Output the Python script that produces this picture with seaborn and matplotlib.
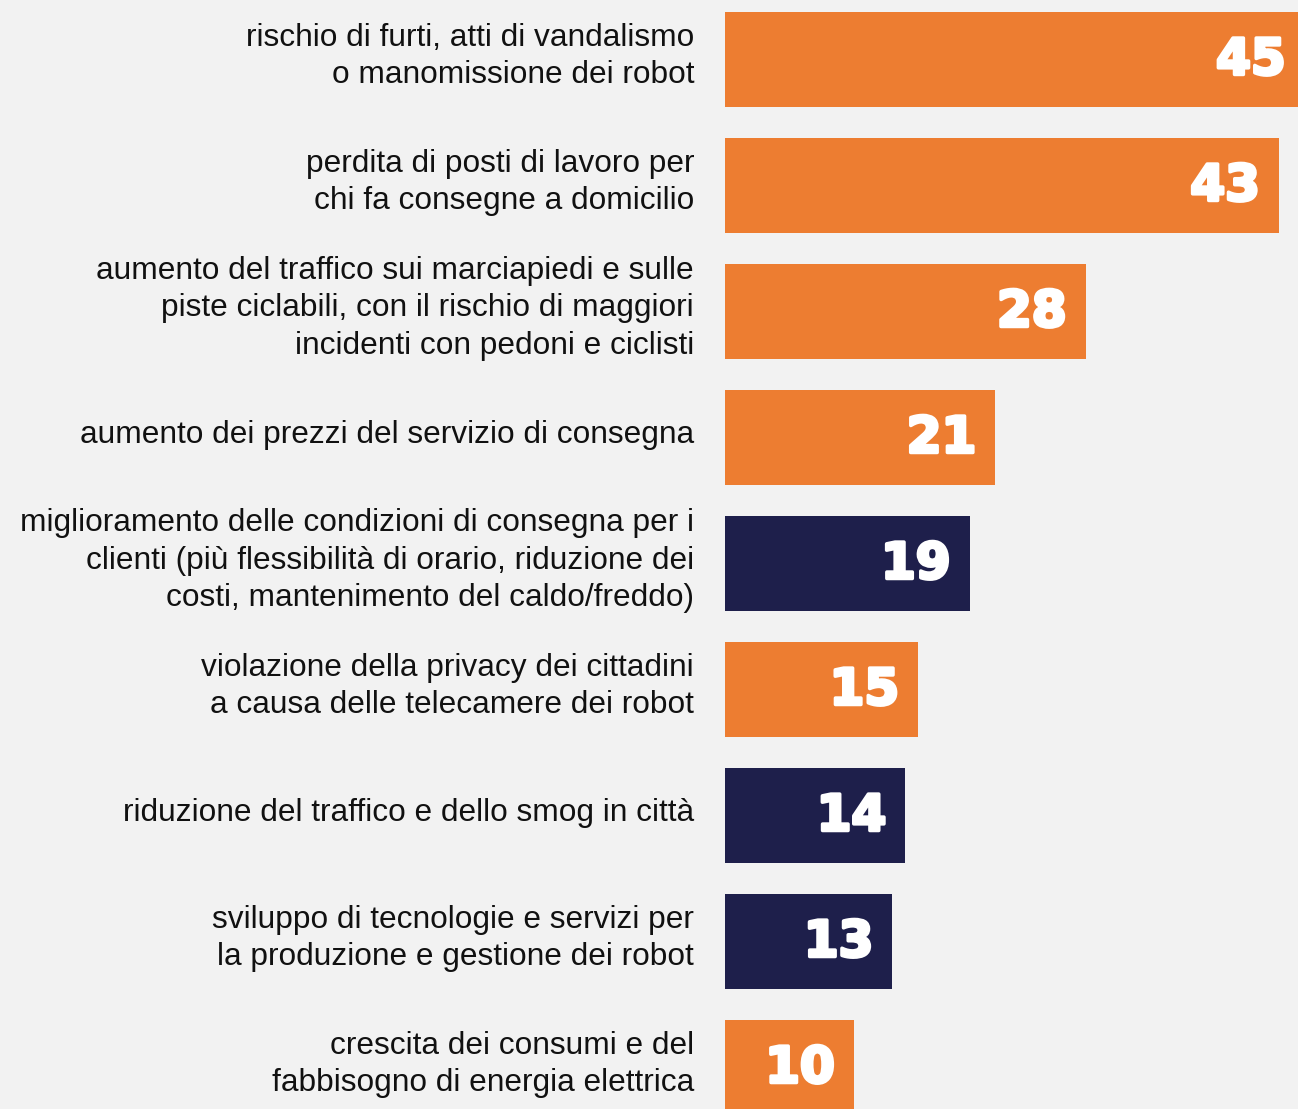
import matplotlib
matplotlib.use("Agg")
import matplotlib.pyplot as plt
import matplotlib.patheffects as pe
from matplotlib import font_manager
import seaborn as sns

# risks (orange) vs benefits (navy)
labels = [
    "rischio di furti, atti di vandalismo\no manomissione dei robot",
    "perdita di posti di lavoro per\nchi fa consegne a domicilio",
    "aumento del traffico sui marciapiedi e sulle\npiste ciclabili, con il rischio di maggiori\nincidenti con pedoni e ciclisti",
    "aumento dei prezzi del servizio di consegna",
    "miglioramento delle condizioni di consegna per i\nclienti (più flessibilità di orario, riduzione dei\ncosti, mantenimento del caldo/freddo)",
    "violazione della privacy dei cittadini\na causa delle telecamere dei robot",
    "riduzione del traffico e dello smog in città",
    "sviluppo di tecnologie e servizi per\nla produzione e gestione dei robot",
    "crescita dei consumi e del\nfabbisogno di energia elettrica",
]
values = [45, 43, 28, 21, 19, 15, 14, 13, 10]
kinds = ["rischio", "rischio", "rischio", "rischio", "beneficio",
         "rischio", "beneficio", "beneficio", "rischio"]
colors = {"rischio": "#ED7D31", "beneficio": "#1E1F4B"}

sns.set_style("white")
plt.rcParams["font.family"] = ["Liberation Sans", "DejaVu Sans"]

# make sure the regular (not Narrow) Liberation Sans is used
label_font = font_manager.FontProperties(family="Liberation Sans", size=22.8)
for f in font_manager.findSystemFonts():
    if f.endswith("LiberationSans-Regular.ttf"):
        label_font = font_manager.FontProperties(fname=f, size=22.8)
        break

fig = plt.figure(figsize=(12.98, 11.09), dpi=100, facecolor="#F2F2F2")
ax = fig.add_axes([725 / 1298, 0, 573 / 1298, 1])
ax.set_facecolor("#F2F2F2")

sns.barplot(x=values, y=labels, hue=kinds, palette=colors, dodge=False,
            width=0.754, legend=False, saturation=1, linewidth=0, ax=ax)

ax.set_xlim(0, 573 / 12.88)
ax.set_ylim(8.329, -0.472)
ax.set_xticks([])
ax.set_xlabel("")
ax.set_ylabel("")
ticks = ax.get_yticks()
ax.set_yticks(ticks, [""] * len(ticks))
ax.tick_params(axis="y", length=0)
for s in ax.spines.values():
    s.set_visible(False)

# category labels, right aligned left of the bars
for pos, text in zip(ticks, labels):
    ax.annotate(text, (0, pos), xytext=(-31, 3), textcoords="offset pixels",
                ha="right", va="center", multialignment="right",
                color="#111111", fontproperties=label_font, linespacing=1.31,
                annotation_clip=False)

for bar in ax.patches:
    w = bar.get_width()
    if w <= 0:
        continue
    ax.annotate(f"{w:.0f}", (w, bar.get_y() + bar.get_height() / 2),
                xytext=(-19, -1), textcoords="offset pixels",
                ha="right", va="center", color="white",
                fontsize=36, fontweight="heavy", family="DejaVu Sans",
                annotation_clip=False,
                path_effects=[pe.withStroke(linewidth=2.5, foreground="white")])

fig.savefig("out.png", dpi=100, facecolor=fig.get_facecolor())
